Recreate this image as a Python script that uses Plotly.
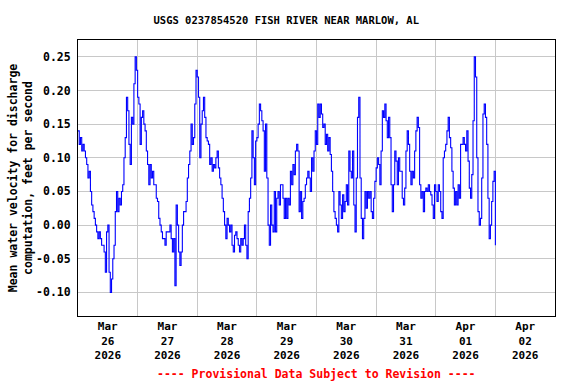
import plotly.graph_objects as go
import pandas as pd

# Mean water velocity (ft/s), 30-minute readings starting 2026-03-26 00:00
mar26 = [0.14, 0.12, 0.13, 0.11, 0.12, 0.11, 0.10, 0.09, 0.07, 0.08, 0.05, 0.03,
         0.02, 0.01, 0.00, -0.01, -0.02, -0.01, -0.02, -0.03, -0.03, -0.04, -0.07, -0.01,
         0.00, -0.07, -0.10, -0.08, -0.05, -0.03, 0.02, 0.05, 0.02, 0.04, 0.03, 0.05,
         0.06, 0.10, 0.13, 0.19, 0.17, 0.12, 0.09, 0.16, 0.15, 0.21, 0.25, 0.23]
mar27 = [0.19, 0.18, 0.12, 0.16, 0.17, 0.15, 0.14, 0.11, 0.09, 0.06, 0.09, 0.07,
         0.08, 0.06, 0.06, 0.04, 0.035, 0.01, 0.00, -0.01, -0.02, -0.02, -0.03, -0.01,
         -0.01, -0.01, 0.00, -0.02, -0.04, -0.02, -0.09, 0.03, 0.00, -0.04, -0.06, -0.04,
         0.00, 0.02, 0.02, 0.035, 0.07, 0.09, 0.11, 0.15, 0.12, 0.13, 0.18, 0.23]
mar28 = [0.22, 0.19, 0.10, 0.15, 0.17, 0.19, 0.16, 0.13, 0.125, 0.12, 0.09, 0.10,
         0.08, 0.09, 0.085, 0.10, 0.11, 0.085, 0.07, 0.06, 0.04, 0.02, 0.00, -0.02,
         0.01, 0.00, -0.01, 0.00, -0.03, -0.04, -0.015, -0.01, -0.02, -0.03, -0.04, -0.02,
         -0.03, -0.02, 0.00, -0.03, -0.05, 0.02, 0.04, 0.07, 0.14, 0.10, 0.06, 0.125]
mar29 = [0.13, 0.15, 0.18, 0.17, 0.155, 0.14, 0.08, 0.15, 0.07, 0.00, -0.03, 0.03,
         0.00, -0.01, 0.05, -0.01, 0.04, 0.05, 0.03, 0.06, 0.06, 0.04, 0.01, 0.04,
         0.01, 0.04, 0.03, 0.08, 0.06, 0.09, 0.075, 0.11, 0.12, 0.11, 0.02, 0.05,
         0.01, 0.035, 0.04, 0.06, 0.07, 0.08, 0.07, 0.05, 0.10, 0.08, 0.11, 0.14]
mar30 = [0.12, 0.18, 0.16, 0.18, 0.165, 0.145, 0.15, 0.12, 0.135, 0.11, 0.13, 0.105,
         0.08, 0.05, 0.02, 0.01, 0.00, -0.01, 0.05, 0.03, 0.01, 0.045, 0.02, 0.035,
         0.06, 0.03, 0.11, 0.08, 0.07, 0.11, 0.03, -0.01, 0.07, 0.16, 0.19, 0.07,
         0.01, -0.02, 0.01, 0.05, 0.025, 0.05, 0.04, 0.05, 0.02, 0.01, 0.04, 0.065]
mar31 = [0.085, 0.10, 0.09, 0.06, 0.11, 0.17, 0.16, 0.18, 0.155, 0.13, 0.16, 0.13,
         0.06, 0.02, 0.06, 0.11, 0.095, 0.06, 0.10, 0.08, 0.08, 0.04, 0.03, 0.055,
         0.11, 0.14, 0.12, 0.08, 0.06, 0.08, 0.07, 0.11, 0.14, 0.16, 0.145, 0.06,
         0.04, 0.05, 0.02, 0.05, 0.055, 0.05, 0.06, 0.05, 0.045, 0.03, 0.01, 0.06]
apr01 = [0.05, 0.035, 0.06, 0.05, 0.02, 0.01, 0.10, 0.11, 0.12, 0.14, 0.16, 0.13,
         0.115, 0.08, 0.055, 0.03, 0.05, 0.03, 0.06, 0.04, 0.12, 0.12, 0.13, 0.12,
         0.11, 0.14, 0.095, 0.055, 0.04, 0.075, 0.155, 0.25, 0.22, 0.10, 0.02, 0.00,
         0.01, 0.07, 0.165, 0.18, 0.16, 0.12, 0.04, -0.02, 0.00, 0.035, 0.065, 0.08]
apr02 = [-0.03]

tick_days = ["2026-03-26", "2026-03-27", "2026-03-28", "2026-03-29",
             "2026-03-30", "2026-03-31", "2026-04-01", "2026-04-02"]
tick_labels = ["Mar<br>26<br>2026", "Mar<br>27<br>2026", "Mar<br>28<br>2026",
               "Mar<br>29<br>2026", "Mar<br>30<br>2026", "Mar<br>31<br>2026",
               "Apr<br>01<br>2026", "Apr<br>02<br>2026"]
y_ticks = [-0.10, -0.05, 0.00, 0.05, 0.10, 0.15, 0.20, 0.25]

values = mar26 + mar27 + mar28 + mar29 + mar30 + mar31 + apr01 + apr02
times = pd.date_range("2026-03-26 00:00", periods=len(values), freq="30min")

FONT = "DejaVu Sans Mono"
GRID = "#c8c8c8"

fig = go.Figure()
fig.add_trace(go.Scatter(x=times, y=values, mode="lines",
                         line=dict(color="#0000FF", width=1.1, shape="hv"),
                         showlegend=False))

noon = [pd.Timestamp(d) + pd.Timedelta(hours=12) for d in tick_days]

fig.update_layout(
    width=576, height=384,
    margin=dict(l=78, r=21, t=40, b=68, autoexpand=False),
    paper_bgcolor="white", plot_bgcolor="white",
    font=dict(family=FONT, size=11, color="black", weight="bold"),
    title=dict(text="USGS 0237854520 FISH RIVER NEAR MARLOW, AL",
               x=0.497, xanchor="center", xref="container",
               y=1 - 20.5 / 384, yanchor="middle", yref="container",
               font=dict(family=FONT, size=10.5, color="black", weight="bold")),
    xaxis=dict(range=["2026-03-26 00:00", "2026-04-03 00:00"],
               tickmode="array", tickvals=noon, ticktext=tick_labels,
               showgrid=False, ticks="", zeroline=False, automargin=False,
               tickfont=dict(family=FONT, size=11, weight="bold"),
               minor=dict(dtick=86400000, tick0="2026-03-26", showgrid=True,
                          gridcolor=GRID, gridwidth=1, ticks=""),
               showline=True, linecolor="black", linewidth=1, mirror=True),
    yaxis=dict(range=[-0.135, 0.275],
               tickmode="array", tickvals=y_ticks,
               ticktext=[f"{v:.2f}" for v in y_ticks],
               showgrid=True, gridcolor=GRID, gridwidth=1, zeroline=False,
               automargin=False,
               ticks="outside", ticklen=4, tickcolor="rgba(0,0,0,0)",
               tickfont=dict(family=FONT, size=11.5, weight="bold"),
               showline=True, linecolor="black", linewidth=1, mirror=True,
               title=dict(text="Mean water velocity for discharge<br>computation, feet per second",
                          font=dict(family=FONT, size=11.5, weight="bold"),
                          standoff=1)),
)

fig.add_annotation(text="---- Provisional Data Subject to Revision ----",
                   xref="paper", yref="paper", x=0.5, y=-0.21,
                   xanchor="center", yanchor="middle", showarrow=False,
                   font=dict(family=FONT, size=11.5, color="#FF0000", weight="bold"))

fig.write_html("out.html", config={"displayModeBar": False},
               post_script="document.body.style.margin='0';")
